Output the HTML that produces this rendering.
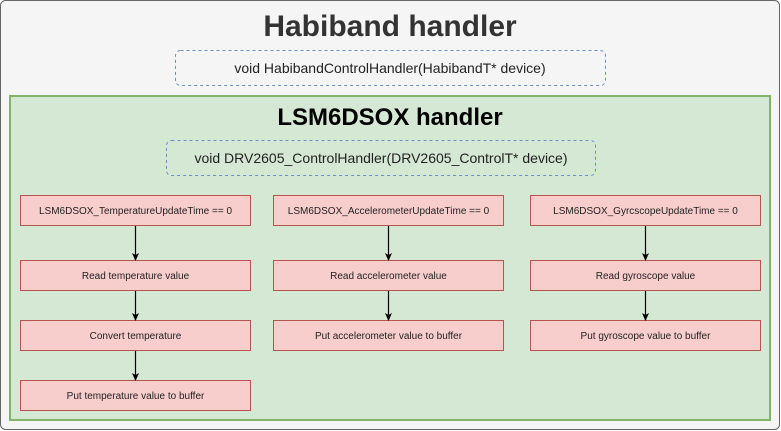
<!DOCTYPE html>
<html><head><meta charset="utf-8"><style>body{margin:0;background:#fff}svg{display:block}text{font-family:"Liberation Sans",Arial,sans-serif}</style></head><body>
<svg width="781" height="431" viewBox="0 0 781 431" xmlns="http://www.w3.org/2000/svg">
<defs><marker id="a" markerWidth="8" markerHeight="8" refX="7" refY="4" orient="auto" markerUnits="userSpaceOnUse"><path d="M0,0.5 L8,4 L0,7.5 L2,4 Z" fill="#000"/></marker></defs>
<rect x="0.5" y="0.5" width="779" height="429" rx="5" fill="#f5f5f5" stroke="#666"/>
<text x="390" y="36" text-anchor="middle" font-size="30" font-weight="bold" fill="#333">Habiband handler</text>
<rect x="175.5" y="50.5" width="430" height="35" rx="5" fill="none" stroke="#6c8ebf" stroke-dasharray="3,3"/>
<text x="390" y="73" text-anchor="middle" font-size="14" fill="#222">void HabibandControlHandler(HabibandT* device)</text>
<rect x="10" y="96" width="760" height="324" fill="#d5e8d4" stroke="#82b366" stroke-width="2"/>
<text x="390" y="125" text-anchor="middle" font-size="24" font-weight="bold" fill="#000">LSM6DSOX handler</text>
<rect x="166.5" y="140.5" width="429" height="35" rx="5" fill="none" stroke="#6c8ebf" stroke-dasharray="3,3"/>
<text x="381" y="163" text-anchor="middle" font-size="14" fill="#222">void DRV2605_ControlHandler(DRV2605_ControlT* device)</text>
<g fill="#f8cecc" stroke="#b85450">
<rect x="20.5" y="195.5" width="230" height="30"/><rect x="20.5" y="260.5" width="230" height="30"/><rect x="20.5" y="320.5" width="230" height="30"/><rect x="20.5" y="380.5" width="230" height="30"/>
<rect x="273.5" y="195.5" width="230" height="30"/><rect x="273.5" y="260.5" width="230" height="30"/><rect x="273.5" y="320.5" width="230" height="30"/>
<rect x="530.5" y="195.5" width="230" height="30"/><rect x="530.5" y="260.5" width="230" height="30"/><rect x="530.5" y="320.5" width="230" height="30"/>
</g>
<g stroke="#000" stroke-width="1.2" marker-end="url(#a)">
<line x1="135.5" y1="226" x2="135.5" y2="260"/><line x1="135.5" y1="291" x2="135.5" y2="320"/><line x1="135.5" y1="351" x2="135.5" y2="380"/>
<line x1="388.5" y1="226" x2="388.5" y2="260"/><line x1="388.5" y1="291" x2="388.5" y2="320"/>
<line x1="645.5" y1="226" x2="645.5" y2="260"/><line x1="645.5" y1="291" x2="645.5" y2="320"/>
</g>
<g font-size="10" text-anchor="middle" fill="#222">
<text x="135.5" y="214">LSM6DSOX_TemperatureUpdateTime == 0</text>
<text x="135.5" y="279">Read temperature value</text>
<text x="135.5" y="339">Convert temperature</text>
<text x="135.5" y="399">Put temperature value to buffer</text>
<text x="388.5" y="214">LSM6DSOX_AccelerometerUpdateTime == 0</text>
<text x="388.5" y="279">Read accelerometer value</text>
<text x="388.5" y="339">Put accelerometer value to buffer</text>
<text x="645.5" y="214">LSM6DSOX_GyrcscopeUpdateTime == 0</text>
<text x="645.5" y="279">Read gyroscope value</text>
<text x="645.5" y="339">Put gyroscope value to buffer</text>
</g>
</svg>
</body></html>
